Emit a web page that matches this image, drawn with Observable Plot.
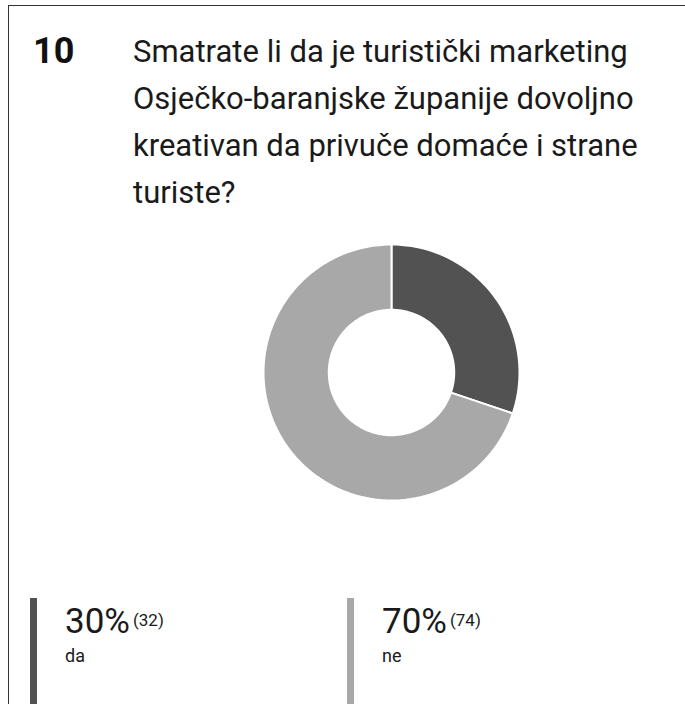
<!DOCTYPE html>
<html>
<head>
<meta charset="utf-8">
<script src="https://cdn.jsdelivr.net/npm/d3@7"></script>
<script src="https://cdn.jsdelivr.net/npm/@observablehq/plot@0.6"></script>
<style>
  html, body { margin: 0; padding: 0; background: #fff; }
  body { width: 685px; height: 704px; position: relative; overflow: hidden; font-family: Roboto, "Noto Sans", sans-serif; color: #1a1a1a; }
  .frame { position: absolute; left: 8px; top: 5px; right: -2px; bottom: -2px; border-left: 1.5px solid #333; border-top: 1.5px solid #333; }
  .num { position: absolute; left: 33px; top: 28px; font-size: 36px; line-height: 47px; font-weight: 700; color: #111; }
  .title { position: absolute; left: 133px; top: 28px; width: 548px; font-size: 31px; line-height: 47px; color: #1a1a1a; }
  #chart { position: absolute; left: 0; top: 220px; }
  .leg { position: absolute; top: 598px; height: 106px; }
  .leg .bar { position: absolute; left: 0; top: 0; width: 7px; height: 106px; }
  .leg .pct { position: absolute; left: 35px; top: 1px; font-size: 35px; line-height: 42px; white-space: nowrap; color: #1a1a1a; }
  .leg .pct small { font-size: 17px; margin-left: 3px; vertical-align: 7px; }
  .leg .lab { position: absolute; left: 35px; top: 47px; font-size: 18px; color: #1a1a1a; }
</style>
</head>
<body>
<div class="frame"></div>
<div class="num" id="num"></div>
<div class="title" id="title"></div>
<div id="chart"></div>
<div id="legend"></div>
<script>
const questionNumber = "10";
const questionLines = [
  "Smatrate li da je turistički marketing",
  "Osječko-baranjske županije dovoljno",
  "kreativan da privuče domaće i strane",
  "turiste?"
];
const categories = ["da", "ne"];
const counts = [32, 74];
const percents = [30, 70];
const colors = ["#525252", "#a8a8a8"];

document.getElementById("num").textContent = questionNumber;
document.getElementById("title").innerHTML = questionLines.join("<br>");

// Build slice polygons from data via d3.pie
const pie = d3.pie().sort(null).value(d => d.count);
const arcs = pie(categories.map((c, i) => ({cat: c, count: counts[i]})));
const rOuter = 1, rInner = 0.49, steps = 160;
const pts = [];
arcs.forEach(a => {
  const n = Math.max(4, Math.round(steps * (a.endAngle - a.startAngle) / (2 * Math.PI)));
  const ring = [];
  for (let k = 0; k <= n; k++) {
    const t = a.startAngle + (a.endAngle - a.startAngle) * k / n;
    ring.push({cat: a.data.cat, x: rOuter * Math.sin(t), y: rOuter * Math.cos(t)});
  }
  for (let k = n; k >= 0; k--) {
    const t = a.startAngle + (a.endAngle - a.startAngle) * k / n;
    ring.push({cat: a.data.cat, x: rInner * Math.sin(t), y: rInner * Math.cos(t)});
  }
  ring.push(ring[0]);
  pts.push(...ring);
});

const W = 685, H = 300, R = 128, cx = 391, cy = 152;
const chart = Plot.plot({
  width: W,
  height: H,
  margin: 0,
  x: {domain: [-cx / R, (W - cx) / R], axis: null},
  y: {domain: [-(H - cy) / R, cy / R], axis: null},
  color: {domain: categories, range: colors},
  marks: [
    Plot.line(pts, {x: "x", y: "y", z: "cat", fill: "cat", stroke: "#fff", strokeWidth: 2, curve: "linear"})
  ]
});
document.getElementById("chart").appendChild(chart);

const legend = document.getElementById("legend");
const legX = [30, 347];
categories.forEach((c, i) => {
  const d = document.createElement("div");
  d.className = "leg";
  d.style.left = legX[i] + "px";
  d.innerHTML = `<div class="bar" style="background:${colors[i]}"></div>
    <div class="pct">${percents[i]}%<small>(${counts[i]})</small></div>
    <div class="lab">${c}</div>`;
  legend.appendChild(d);
});
</script>
</body>
</html>
